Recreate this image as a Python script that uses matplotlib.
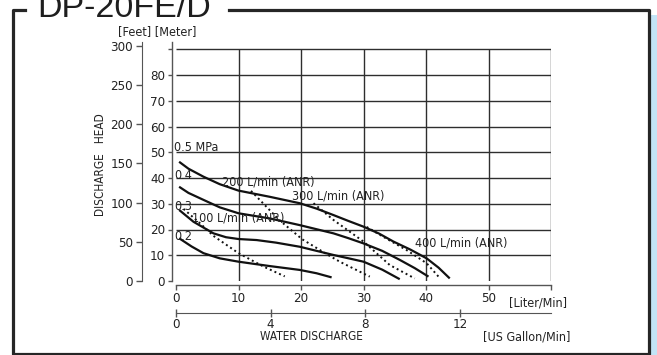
import matplotlib
matplotlib.use('Agg')
import matplotlib.pyplot as plt
from matplotlib.lines import Line2D
from matplotlib.patches import Rectangle
from matplotlib import font_manager as fm

# ---------------- data ----------------
# pressure curves: discharge [L/min] vs head [m]
q_05 = [0.5, 2.0, 4.4, 7.0, 10, 12.5, 15, 19.8, 22.5, 25.2, 27.5, 30, 32.5, 34.8, 37.5, 40.1, 42.0, 43.8]
h_05 = [46.3, 43.6, 40.5, 37.6, 35.1, 33.9, 32.7, 30.2, 28.1, 25.6, 23.4, 21.1, 18.4, 15.3, 12.2, 8.8, 5.2, 1.0]
q_04 = [0.5, 2.0, 4.4, 7.0, 10, 15, 19.8, 22.5, 25.2, 27.5, 30, 33.0, 35.8, 38.2, 40.4]
h_04 = [36.6, 34.2, 31.5, 28.6, 26.3, 24.3, 21.7, 20.1, 18.5, 16.7, 14.6, 11.7, 8.2, 5.0, 1.7]
q_03 = [0.5, 2.8, 6, 8.0, 10, 12.9, 16.0, 19.8, 22.5, 25.2, 28.0, 30, 33.0, 35.8]
h_03 = [27.6, 23.0, 18.5, 17.0, 16.3, 15.9, 14.9, 13.3, 11.7, 10.1, 8.6, 7.5, 4.4, 0.7]
q_02 = [0.5, 2.5, 4.4, 7.0, 10, 15, 19.8, 22.5, 24.9]
h_02 = [16.6, 13.4, 10.8, 8.8, 7.5, 5.8, 4.3, 3.0, 1.4]

# air consumption curves (dotted)
q_a100 = [1.2, 3.8, 6, 10, 14, 17.4]
h_a100 = [28.0, 22.5, 17.5, 10.8, 5.6, 1.8]
q_a200 = [12, 14, 16.6, 20.2, 24.2, 26.2, 31]
h_a200 = [35, 30, 23.5, 16.2, 10.3, 7.5, 1.7]
q_a300 = [22, 25.2, 30, 34.2, 38.2]
h_a300 = [30.2, 23.7, 15.3, 6.2, 1.0]
q_a400 = [30.5, 33.5, 36.9, 40.1, 42]
h_a400 = [21, 16.7, 12, 6.9, 1.7]

pressure_labels = ['0.5 MPa', '0.4', '0.3', '0.2']
pressure_label_y = [52, 40.8, 28.9, 17.2]
air_labels = ['100 L/min (ANR)', '200 L/min (ANR)', '300 L/min (ANR)', '400 L/min (ANR)']
air_label_x = [2.5, 7.3, 18.5, 38.2]
air_label_y = [24.3, 38.6, 33.0, 14.9]

liter_ticks = [0, 10, 20, 30, 40, 50, 60]
liter_ticklabels = ['0', '10', '20', '30', '40', '50', '']
meter_ticks = [0, 10, 20, 30, 40, 50, 60, 70, 80, 90]
meter_ticklabels = ['0', '10', '20', '30', '40', '50', '60', '70', '80', '']
feet_ticks = [0, 50, 100, 150, 200, 250, 300]
gallon_ticks = [0, 4, 8, 12]

# ---------------- font choice: a narrow sans if installed ----------------
def narrow_font():
    for f in fm.fontManager.ttflist:
        if 'LiberationSansNarrow-Regular' in f.fname:
            return fm.FontProperties(fname=f.fname)
    for f in fm.fontManager.ttflist:
        if f.fname.endswith('DejaVuSansCondensed.ttf'):
            return fm.FontProperties(fname=f.fname)
    return fm.FontProperties(family=['Noto Sans CJK JP', 'DejaVu Sans'])

base_fp = narrow_font()

def fp(size):
    p = base_fp.copy()
    p.set_size(size)
    return p

# ---------------- layout ----------------
W, H = 657, 355
fig = plt.figure(figsize=(6.57, 3.55), dpi=100)
fig.patch.set_facecolor('white')

def fx(px):
    return px / W

def fy(py):
    return 1 - py / H

X0, X1 = 176, 551
Y0, YT = 281, 42
ax_w = X1 - X0
ax_h = Y0 - YT
ax = fig.add_axes([fx(X0), fy(Y0), ax_w / W, ax_h / H])
ax.set_xlim(0, 60)
ax.set_ylim(0, (Y0 - YT) / 2.575)
ax.patch.set_alpha(0)

for s in ['top', 'right']:
    ax.spines[s].set_visible(False)
ax.spines['left'].set_position(('axes', -4 / ax_w))
ax.spines['bottom'].set_position(('axes', -4 / ax_h))
for s in ['left', 'bottom']:
    ax.spines[s].set_color('#555555')
    ax.spines[s].set_linewidth(1.0)

gridc = '#2e2e2e'
ax.vlines([10, 20, 30, 40, 50, 60], 0, 90, colors=gridc, linewidth=1.0)
ax.hlines([10, 20, 30, 40, 50, 60, 70, 80, 90], 0, 60, colors=gridc, linewidth=1.0)

txtc = '#222222'
ax.set_yticks(meter_ticks)
ax.set_yticklabels(meter_ticklabels)
ax.set_xticks(liter_ticks)
ax.set_xticklabels(liter_ticklabels)
ax.tick_params(axis='y', direction='out', length=3, width=1, color='#555555',
               pad=2, labelcolor=txtc)
ax.tick_params(axis='x', direction='out', length=3.5, width=1, color='#555555',
               pad=1.5, labelcolor=txtc)
for lab in ax.get_xticklabels() + ax.get_yticklabels():
    lab.set_fontproperties(fp(9.5))

m2ft = 3.28084
sec_y = ax.secondary_yaxis(-34 / ax_w, functions=(lambda m: m * m2ft, lambda f: f / m2ft))
sec_y.set_yticks(feet_ticks)
sec_y.spines['left'].set_color('#555555')
sec_y.tick_params(direction='out', length=4, width=1, color='#555555', pad=2.5,
                  labelcolor=txtc)
for lab in sec_y.get_yticklabels():
    lab.set_fontproperties(fp(9.5))

l2g = 3.785
sec_x = ax.secondary_xaxis(-(313 - Y0) / ax_h, functions=(lambda l: l / l2g, lambda g: g * l2g))
sec_x.set_xticks(gallon_ticks)
sec_x.spines['bottom'].set_color('#555555')
sec_x.tick_params(direction='inout', length=6, width=1, color='#555555', pad=0.5,
                  labelcolor=txtc)
for lab in sec_x.get_xticklabels():
    lab.set_fontproperties(fp(9.5))

# curves
lc = '#111111'
for q, h in [(q_05, h_05), (q_04, h_04), (q_03, h_03), (q_02, h_02)]:
    ax.plot(q, h, color=lc, linewidth=1.6, solid_capstyle='butt',
            solid_joinstyle='round', clip_on=False)
for q, h in [(q_a100, h_a100), (q_a200, h_a200), (q_a300, h_a300), (q_a400, h_a400)]:
    ax.plot(q, h, color=lc, linewidth=1.4, linestyle=(0, (1.0, 1.6)), clip_on=False)

for lab, yv in zip(pressure_labels, pressure_label_y):
    ax.text(-0.3, yv, lab, ha='left', va='center', fontproperties=fp(9), color=txtc)
for lab, xv, yv in zip(air_labels, air_label_x, air_label_y):
    ax.text(xv, yv, lab, ha='left', va='center', fontproperties=fp(9), color=txtc)

# axis texts
fig.text(fx(157), fy(32), '[Feet] [Meter]', ha='center', va='center', fontproperties=fp(9), color=txtc)
fig.text(fx(101), fy(165), 'DISCHARGE   HEAD', ha='center', va='center', rotation=90,
         fontproperties=fp(8.5), color=txtc)
fig.text(fx(538), fy(303), '[Liter/Min]', ha='center', va='center', fontproperties=fp(9), color=txtc)
fig.text(fx(311), fy(337), 'WATER DISCHARGE', ha='center', va='center', fontproperties=fp(8.5), color=txtc)
fig.text(fx(527), fy(337), '[US Gallon/Min]', ha='center', va='center', fontproperties=fp(9), color=txtc)

# frame and title
fc = '#262626'
flw = 2.3
def fline(xs, ys):
    fig.add_artist(Line2D([fx(x) for x in xs], [fy(y) for y in ys], color=fc,
                          linewidth=flw, transform=fig.transFigure,
                          solid_capstyle='projecting'))

fline([25, 12.5, 12.5, 649, 649, 229], [9.5, 9.5, 353.5, 353.5, 9.5, 9.5])
fig.add_artist(Rectangle((fx(651), 0), fx(657) - fx(651), fy(15), transform=fig.transFigure,
                         facecolor='#c2e4f6', edgecolor='none'))
fig.text(fx(37), fy(17), 'DP-20FE/D', ha='left', va='baseline', fontsize=24.5,
         family=['Liberation Sans', 'DejaVu Sans'], color='#1e1e1e')

fig.savefig('out.png', dpi=100)
